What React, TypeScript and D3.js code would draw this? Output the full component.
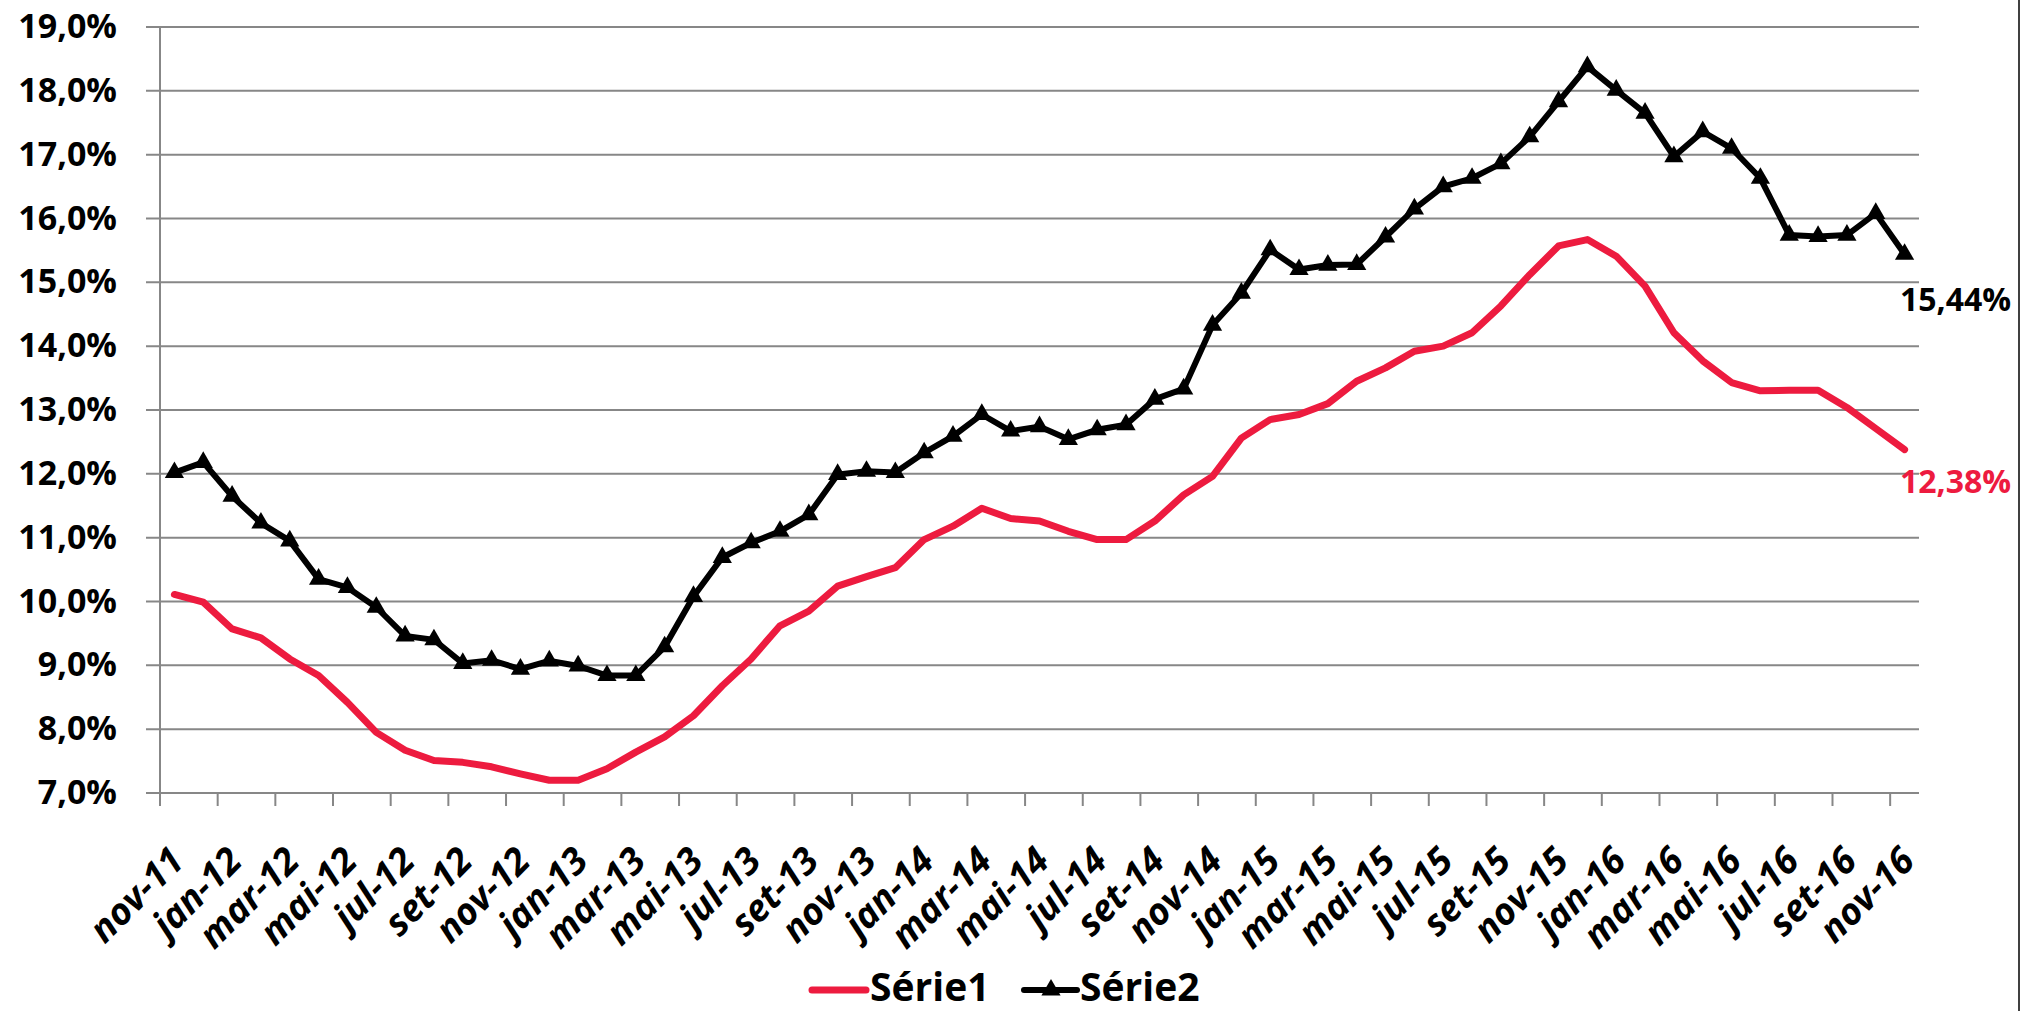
import * as d3 from "d3";

const categories = [
  "nov-11", "dez-11",
  "jan-12", "fev-12", "mar-12", "abr-12", "mai-12", "jun-12", "jul-12", "ago-12", "set-12", "out-12", "nov-12", "dez-12",
  "jan-13", "fev-13", "mar-13", "abr-13", "mai-13", "jun-13", "jul-13", "ago-13", "set-13", "out-13", "nov-13", "dez-13",
  "jan-14", "fev-14", "mar-14", "abr-14", "mai-14", "jun-14", "jul-14", "ago-14", "set-14", "out-14", "nov-14", "dez-14",
  "jan-15", "fev-15", "mar-15", "abr-15", "mai-15", "jun-15", "jul-15", "ago-15", "set-15", "out-15", "nov-15", "dez-15",
  "jan-16", "fev-16", "mar-16", "abr-16", "mai-16", "jun-16", "jul-16", "ago-16", "set-16", "out-16", "nov-16",
];

const tickLabels = [
  "nov-11", "jan-12", "mar-12", "mai-12", "jul-12", "set-12", "nov-12", "jan-13", "mar-13", "mai-13", "jul-13",
  "set-13", "nov-13", "jan-14", "mar-14", "mai-14", "jul-14", "set-14", "nov-14", "jan-15", "mar-15", "mai-15",
  "jul-15", "set-15", "nov-15", "jan-16", "mar-16", "mai-16", "jul-16", "set-16", "nov-16",
];

// Série1 (red)
const serie1 = [
  10.11, 9.99, 9.57, 9.43, 9.1, 8.84, 8.42, 7.95, 7.67, 7.51, 7.48, 7.41, 7.3, 7.2, 7.2, 7.38, 7.64, 7.88, 8.21, 8.68,
  9.1, 9.62, 9.85, 10.24, 10.39, 10.53, 10.97, 11.18, 11.46, 11.3, 11.26, 11.1, 10.97, 10.97, 11.26, 11.67, 11.96,
  12.56, 12.85, 12.93, 13.1, 13.45, 13.66, 13.92, 14.0, 14.21, 14.63, 15.12, 15.57, 15.67, 15.41, 14.94, 14.21,
  13.77, 13.43, 13.3, 13.31, 13.31, 13.04, 12.71, 12.38,
];

// Série2 (black, triangles)
const serie2 = [
  12.02, 12.18, 11.65, 11.23, 10.95, 10.35, 10.22, 9.91, 9.46, 9.4, 9.03, 9.08, 8.94, 9.07, 8.99, 8.84, 8.84, 9.29,
  10.08, 10.69, 10.92, 11.1, 11.36, 11.99, 12.04, 12.02, 12.33, 12.59, 12.93, 12.67, 12.74, 12.54, 12.69, 12.77,
  13.17, 13.33, 14.33, 14.83, 15.51, 15.2, 15.27, 15.28, 15.71, 16.15, 16.5, 16.63, 16.86, 17.28, 17.83, 18.38,
  18.01, 17.65, 16.97, 17.36, 17.1, 16.63, 15.74, 15.72, 15.74, 16.08, 15.44,
];

const yTicks = [7, 8, 9, 10, 11, 12, 13, 14, 15, 16, 17, 18, 19];

const W = 2033;
const H = 1011;
const RED = "#ED1B3F";
const GRID = "#878787";
const FONT = "'Open Sans', 'Lato', 'DejaVu Sans', sans-serif";

export default function App() {
  const x = d3.scaleBand<string>().domain(categories).range([160, 1919]).padding(0);
  const y = d3.scaleLinear().domain([7, 19]).range([793, 27]);
  const cx = (c: string) => (x(c) ?? 0) + x.bandwidth() / 2;

  const line = d3
    .line<number>()
    .x((_, i) => cx(categories[i]))
    .y((d) => y(d));

  const tri = d3.symbol().type(d3.symbolTriangle).size(160)();
  const pct = (v: number, n: number) => v.toFixed(n).replace(".", ",") + "%";
  const last = categories.length - 1;

  return (
    <svg
      width={W}
      height={H}
      style={{ position: "fixed", left: 0, top: 0, background: "#fff", fontFamily: FONT }}
    >
      <rect width={W} height={H} fill="#fff" />
      <line x1={2019} x2={2019} y1={0} y2={H} stroke="#000" strokeWidth={1.5} />

      {/* gridlines + y labels */}
      {yTicks.map((t) => (
        <g key={t}>
          <line x1={146} x2={1919} y1={y(t)} y2={y(t)} stroke={GRID} strokeWidth={2} />
          <text x={117} y={y(t) + 11} textAnchor="end" fontSize={34} fontWeight="bold" fill="#000">
            {pct(t, 1)}
          </text>
        </g>
      ))}

      {/* y axis */}
      <line x1={160} x2={160} y1={y(19)} y2={y(7)} stroke={GRID} strokeWidth={2} />

      {/* x ticks and labels */}
      {tickLabels.map((c) => (
        <g key={c}>
          <line x1={x(c)} x2={x(c)} y1={y(7)} y2={y(7) + 13} stroke={GRID} strokeWidth={2} />
          <text
            transform={`translate(${cx(c) + 12},${y(7) + 70}) rotate(-45)`}
            textAnchor="end"
            fontSize={37}
            fontWeight="bold"
            fontStyle="italic"
            fill="#000"
          >
            {c}
          </text>
        </g>
      ))}

      {/* series */}
      <path d={line(serie1) ?? ""} fill="none" stroke={RED} strokeWidth={7} strokeLinejoin="round" strokeLinecap="round" />
      <path d={line(serie2) ?? ""} fill="none" stroke="#000" strokeWidth={6} strokeLinejoin="miter" />
      {serie2.map((v, i) => (
        <path key={i} d={tri ?? ""} transform={`translate(${cx(categories[i])},${y(v)})`} fill="#000" />
      ))}

      {/* end labels */}
      <text x={1900} y={311} fontSize={32} fontWeight="bold" fill="#000">
        {pct(serie2[last], 2)}
      </text>
      <text x={1900} y={493} fontSize={32} fontWeight="bold" fill={RED}>
        {pct(serie1[last], 2)}
      </text>

      {/* legend */}
      <g transform="translate(0,1001)">
        <line x1={812} x2={866} y1={-11} y2={-11} stroke={RED} strokeWidth={7} strokeLinecap="round" />
        <text x={870} y={0} fontSize={39} fontWeight="bold" fill="#000">Série1</text>
        <line x1={1024} x2={1077} y1={-11} y2={-11} stroke="#000" strokeWidth={6} strokeLinecap="round" />
        <path d={tri ?? ""} transform="translate(1051,-11)" fill="#000" />
        <text x={1080} y={0} fontSize={39} fontWeight="bold" fill="#000">Série2</text>
      </g>
    </svg>
  );
}
